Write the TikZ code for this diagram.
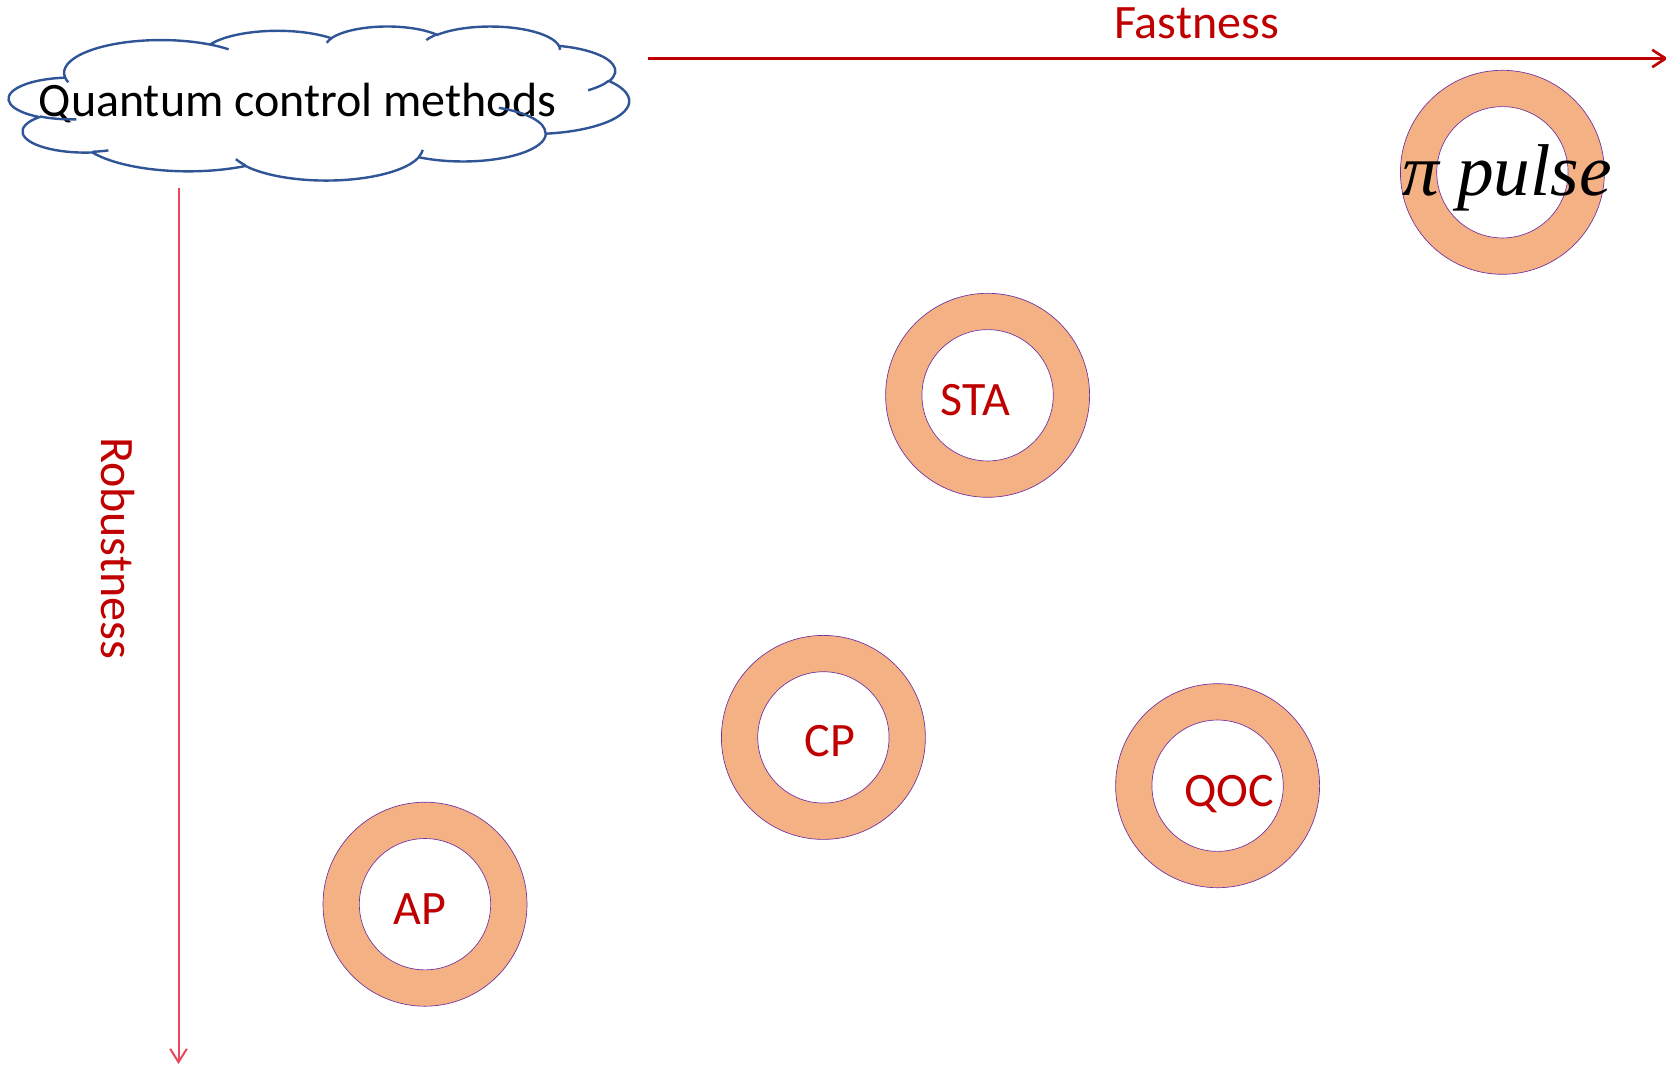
\documentclass[tikz,border=0pt]{standalone}
\usepackage{fontspec}
\setmainfont{Carlito}
\newfontfamily\pifont{Liberation Serif}
\usetikzlibrary{arrows.meta}
\definecolor{ringfill}{HTML}{F4B183}
\definecolor{ringline}{HTML}{7030A0}
\definecolor{darkred}{HTML}{C00000}
\definecolor{pinkred}{RGB}{232,72,94}
\definecolor{cloudblue}{RGB}{47,85,151}
\tikzset{
  declare function={par(\a,\w,\h)=atan2(\w*sin(\a),\h*cos(\a));
    parend(\a,\s,\w,\h)=par(\a,\w,\h)+mod(par(\a+\s,\w,\h)-par(\a,\w,\h)+720,360);},
  carc/.style n args={4}{insert path={arc[start angle={par(#3,#1,#2)}, end angle={parend(#3,#4,#1,#2)}, x radius=#1, y radius=#2]}},
  outerring/.style={circle, minimum size=153pt, inner sep=0pt, fill=ringfill, draw=ringline, line width=0.5pt},
  innerring/.style={circle, minimum size=98.5pt, inner sep=0pt, fill=white, draw=ringline, line width=0.5pt},
  bigtext/.style={font=\fontsize{36pt}{40pt}\selectfont, inner sep=0pt, anchor=base},
  redtext/.style={bigtext, text=darkred},
  fastarrow/.style={draw=darkred, line width=2pt, -{Straight Barb[length=10pt,width=13pt]}},
  robarrow/.style={draw=pinkred, line width=1.5pt, -{Straight Barb[length=10pt,width=12.5pt]}},
  cloudline/.style={draw=cloudblue, line width=1.8pt},
}
\begin{document}
\begin{tikzpicture}[x=0.75pt, y=-0.75pt]
\useasboundingbox (0,0) rectangle (1666,1066);

% title text
\node[bigtext, text=black] (title) at (297.5,116.7) {Quantum control methods};

% cloud (PowerPoint cloud geometry)
\begin{scope}[shift={(9,26)}, x=1.07639pt, y=-0.267361pt]
\draw[cloudline] (39.00,143.70)
  [carc={67.53}{91.90}{-190.48748}{123.78053}]
  [carc={53.33}{72.67}{-144.10238}{89.94523}]
  [carc={43.65}{59.45}{-145.80792}{99.72302}]
  [carc={48.57}{65.95}{-130.98607}{117.24173}]
  [carc={53.33}{72.73}{-78.70888}{109.02692}]
  [carc={67.75}{92.20}{-46.26725}{130.269}]
  [carc={57.85}{78.67}{0.62502}{114.03333}]
  [carc={67.52}{92.15}{22.4516}{115.17255}]
  [carc={77.20}{105.43}{66.24263}{75.71102}]
  [carc={43.60}{59.18}{-274.94208}{146.73557}]
  [carc={43.45}{59.45}{-246.8285}{152.51885}] -- cycle;
\draw[cloudline]
  (46.93,261.77) [carc={43.45}{59.45}{86.742}{26.4295}]
  (69.28,348.99) [carc={43.60}{59.18}{73.61047}{11.44747}]
  (164.78,390.90) [carc={67.52}{92.15}{137.62415}{14.0811}]
  (288.27,347.51) [carc={67.52}{92.15}{6.45327}{15.99835}]
  (341.29,229.54) [carc={57.85}{78.67}{-70.29235}{70.91737}]
  (417.98,153.54) [carc={53.33}{72.73}{30.31803}{27.7515}]
  (383.24,54.26) [carc={48.57}{65.95}{-13.74433}{14.85483}]
  (290.78,39.52) [carc={48.57}{65.95}{-149.18145}{18.19537}]
  (221.41,47.20) [carc={43.65}{59.45}{-163.49427}{17.68635}]
  (140.00,51.92) [carc={67.53}{91.90}{-66.70695}{12.31935}]
  (41.27,157.89) [carc={67.53}{91.90}{157.65435}{11.85817}];
\end{scope}

% axes
\coordinate (fs) at (648,58.5);
\coordinate (fe) at (1668,58.5);
\draw[fastarrow] (fs) -- (fe);
\node[redtext] (fast) at (1196.5,38.3) {Fastness};

\coordinate (rs) at (178.5,188);
\coordinate (re) at (178.5,1064);
\draw[robarrow] (rs) -- (re);
\node[redtext, rotate=-90] (rob) at (101.7,548) {Robustness};

% rings
\node[outerring] (pio) at (1502.4,172.3) {};
\node[innerring] (pii) at (pio) {};
\node[font=\pifont\itshape\fontsize{55pt}{62pt}\selectfont, inner sep=0pt, anchor=base] (pil) at (1507,196) {π pulse};

\node[outerring] (stao) at (987.6,395.3) {};
\node[innerring] (stai) at (stao) {};
\node[redtext] (stal) at (975.5,415.3) {STA};

\node[outerring] (cpo) at (823.4,737.4) {};
\node[innerring] (cpi) at (cpo) {};
\node[redtext] (cpl) at (829.8,756.5) {CP};

\node[outerring] (qoco) at (1217.6,785.7) {};
\node[innerring] (qoci) at (qoco) {};
\node[redtext] (qocl) at (1229.3,806.4) {QOC};

\node[outerring] (apo) at (425,904.2) {};
\node[innerring] (api) at (apo) {};
\node[redtext] (apl) at (419.7,924.4) {AP};
\end{tikzpicture}
\end{document}
